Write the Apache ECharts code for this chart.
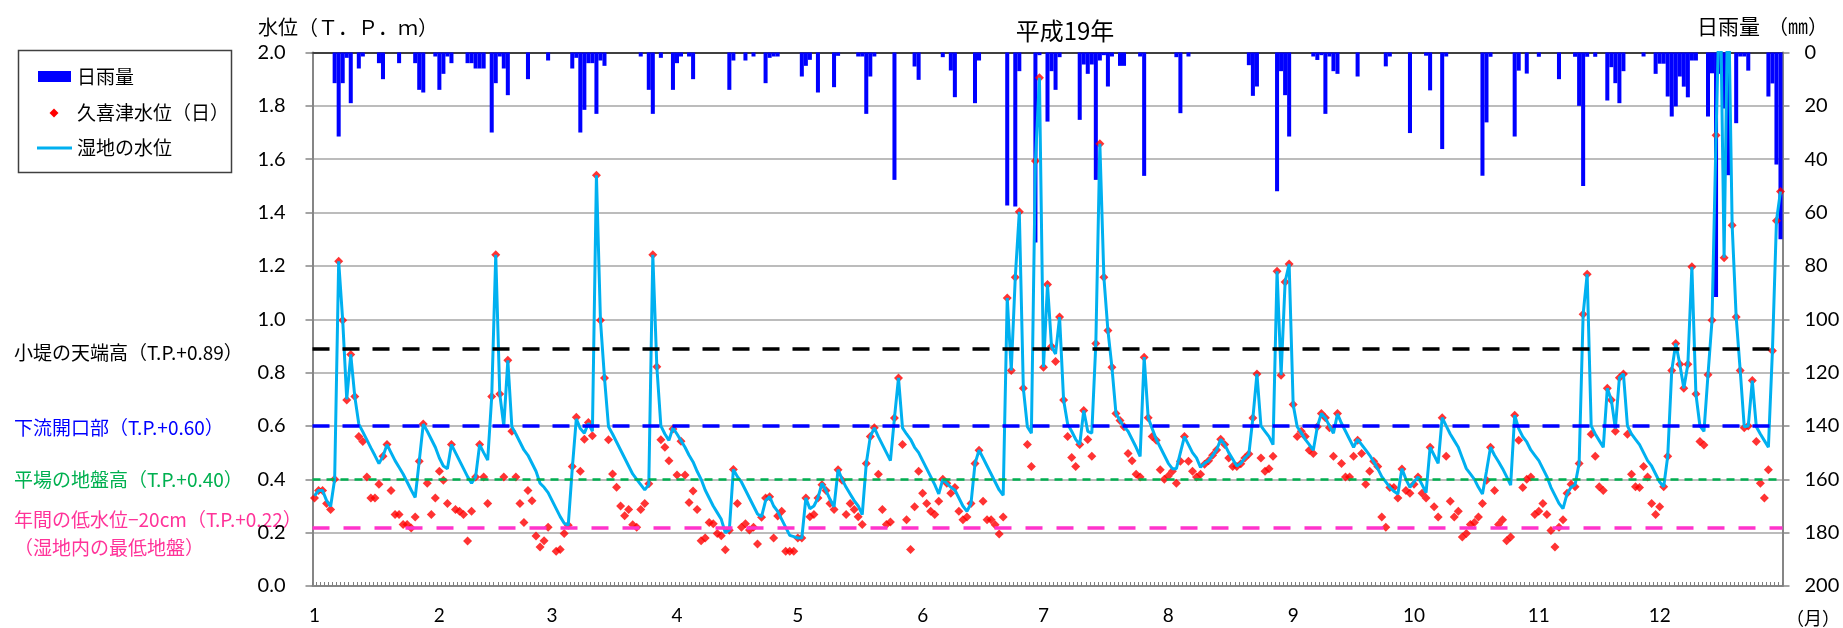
<!DOCTYPE html>
<html lang="ja">
<head>
<meta charset="utf-8">
<title>平成19年 水位と日雨量</title>
<script src="https://cdn.jsdelivr.net/npm/echarts@6/dist/echarts.min.js"></script>
<style>
  html, body { margin: 0; padding: 0; background: #fff; }
  #chart { width: 1843px; height: 628px; }
</style>
</head>
<body>
<div id="chart"></div>
<script>
// 2007 (平成19年) calendar: one category per day
const monthDays = [31, 28, 31, 30, 31, 30, 31, 31, 30, 31, 30, 31];
const categories = [];
monthDays.forEach((n, m) => { for (let d = 1; d <= n; d++) categories.push((m + 1) + '/' + d); });

// Daily rainfall (mm)
const rain = [
  0,0,0,0,0,11.5,31.5,11.5,2,19,0,6,1.5,0,0,0,4,10,0,0,0,4,0,0,0,4,14,15,0,0,1.5,            // 1
  14,8,1.5,4,0,0,0,4,4,6,6,6,0,30,11.5,1.5,6,16,0,0,0,0,10,0,0,0,0,3,                           // 2
  0,0,0,0,0,6,2,30,21.5,4,4,23,3,5,0,0,0,0,0,0,0,0,1.5,0,14,23,0,2,0,0,14,                      // 3
  4,1.5,0,1.5,10,0,0,0,0,0,0,0,0,14,3,0,0,3,0,1.5,0,0,11.5,2,1.5,1.5,0,0,0,0,                   // 4
  0,9,5,2.75,0,15,0,0,0,13,1.25,0,0,0,0,1.5,1.5,23,9,1.5,0,0,0,0,47.75,0,0,0,0,5.25,10.25,      // 5
  0,0,0,0,0,1.75,0,6.75,16.75,0,0,0,0,19,3,0,0,0,0,0,0,57.4,0,57.75,7,0,0,0,71.25,1,            // 6
  0,25.9,7,14,1.75,0,0,0,0,25.25,4.5,8,4.5,47.75,3,1,12.75,1.5,0,5,5,0,0,0,1.5,46.25,0,0,0,0,0, // 7
  0,0,1.75,22.75,0,1.5,0,0,0,0,0,0,0,0,0,0,0,0,0,0,4.75,16.25,12.75,0,0,0,0,52,7,16,31.5,       // 8
  0,0,0,0,0,1.5,2.8,1,23,1.5,7,8,0,0,0,0,9,0,0,0,0,0,0,5.2,1.5,0,0,0,0,30.2,                    // 9
  0,0,0,1.2,14.2,0,0,36.2,1.5,0,0,0,0,0,0,0,0,46.2,26.2,1.6,0,0,0,0,0,31.5,6.8,0,7.9,0,0,       // 10
  1.6,0,0,0,0,10,0,0,0,1.6,20,50,1.6,0,1.6,0,0,18,5.5,11.5,19,7,0,0,0,0,1.5,0,0,8,              // 11
  4.2,4.2,16.5,24,20.2,9,12.8,16.8,3,3,0,0,24,7.8,91.7,8,21,46,0,26.5,1.5,1.5,6.8,0,0,0,0,16.5,11.6,42,70 // 12
];

// 久喜津 daily water level (T.P. m)
const kukiLevel = [
  0.33,0.358,0.358,0.309,0.287,0.40,1.217,0.996,0.697,0.868,0.71,0.56,0.542,0.409,0.33,0.33,0.381,0.486,0.53,0.358,0.268,0.268,0.231,0.231,0.217,0.259,0.468,0.607,0.385,0.268,0.33,
  0.43,0.396,0.309,0.53,0.287,0.28,0.268,0.169,0.28,0.409,0.53,0.409,0.309,0.71,1.242,0.72,0.409,0.846,0.58,0.409,0.309,0.238,0.358,0.32,0.187,0.146,0.17,0.22,
  null,0.13,0.137,0.197,0.228,0.448,0.633,0.43,0.55,0.613,0.563,1.54,0.996,0.78,0.548,0.42,0.37,0.30,0.263,0.287,0.23,0.22,0.287,0.309,0.383,1.242,0.822,0.548,0.52,0.47,0.589,
  0.416,0.543,0.416,0.313,0.356,0.287,0.17,0.18,0.238,0.233,0.197,0.188,0.136,0.209,0.437,0.309,0.22,0.233,0.21,0.22,0.157,0.258,0.33,0.335,0.18,0.262,0.28,0.13,0.13,0.13,
  0.18,0.18,0.33,0.26,0.268,0.33,0.38,0.358,0.309,0.287,0.436,0.396,0.268,0.309,0.287,0.26,0.231,0.459,0.56,0.593,0.419,0.287,0.231,0.24,0.63,0.78,0.53,0.248,0.137,0.297,0.43,
  0.348,0.309,0.28,0.268,0.318,0.40,0.385,0.348,0.369,0.28,0.248,0.259,0.309,0.459,0.509,0.318,0.248,0.248,0.23,0.195,0.259,1.08,0.808,1.157,1.403,0.741,0.53,0.448,1.593,1.905,
  0.82,1.13,0.898,0.842,1.008,0.697,0.56,0.482,0.448,0.53,0.658,0.549,0.486,0.909,1.658,1.157,0.958,0.82,0.647,0.62,0.597,0.497,0.47,0.419,0.409,0.858,0.631,0.56,0.546,0.436,0.40,
  0.412,0.43,0.385,0.468,0.56,0.468,0.43,0.409,0.419,0.456,0.47,0.49,0.51,0.55,0.53,0.48,0.448,0.448,0.458,0.48,0.495,0.63,0.795,0.48,0.43,0.44,0.486,1.18,0.79,1.14,1.207,
  0.68,0.56,0.58,0.56,0.509,0.497,0.597,0.647,0.631,0.593,0.486,0.647,0.459,0.409,0.409,0.486,0.546,0.497,0.381,0.43,0.468,0.448,0.259,0.22,0.369,0.369,0.33,0.439,0.358,0.348,
  0.381,0.409,0.348,0.33,0.52,0.297,0.259,0.631,0.486,0.318,0.259,0.28,0.184,0.197,0.231,0.238,0.259,0.309,0.396,0.52,0.358,0.231,0.248,0.17,0.184,0.64,0.546,0.369,0.40,0.409,0.268,
  0.28,0.309,0.268,0.208,0.146,0.22,0.248,0.348,0.381,0.372,0.459,1.019,1.169,0.569,0.486,0.372,0.358,0.741,0.697,0.58,0.781,0.795,0.569,0.419,0.372,0.369,0.448,0.409,0.309,0.268,
  0.297,0.372,0.486,0.808,0.909,0.831,0.741,0.831,1.197,0.72,0.542,0.529,0.792,0.996,1.69,2.3,1.231,2.3,1.352,1.008,0.808,0.593,0.60,0.77,0.542,0.385,0.33,0.436,0.882,1.369,1.479
];

// 湿地 (wetland) water level (T.P. m)
const wetlandLevel = [
  0.338,0.358,0.358,0.32,0.298,0.40,1.217,0.996,0.70,0.868,0.71,0.607,0.578,0.548,0.518,0.489,0.459,0.486,0.53,0.50,0.47,0.445,0.42,0.39,0.36,0.332,0.468,0.607,0.58,0.55,0.52,
  0.48,0.45,0.44,0.53,0.50,0.47,0.44,0.41,0.385,0.409,0.53,0.50,0.472,0.71,1.242,0.72,0.60,0.846,0.597,0.57,0.54,0.51,0.49,0.46,0.43,0.385,0.37,0.35,
  0.32,0.29,0.26,0.235,0.228,0.44,0.627,0.59,0.573,0.61,0.58,1.54,0.996,0.78,0.597,0.57,0.54,0.51,0.48,0.45,0.42,0.40,0.38,0.36,0.38,1.242,0.822,0.60,0.57,0.546,0.593,
  0.57,0.545,0.52,0.49,0.465,0.43,0.40,0.36,0.33,0.30,0.275,0.25,0.20,0.21,0.437,0.41,0.39,0.36,0.33,0.30,0.27,0.26,0.32,0.335,0.30,0.28,0.25,0.22,0.19,0.185,
  0.18,0.18,0.33,0.29,0.30,0.33,0.385,0.358,0.325,0.297,0.436,0.40,0.37,0.345,0.32,0.30,0.268,0.459,0.56,0.593,0.56,0.53,0.50,0.47,0.63,0.78,0.593,0.57,0.55,0.52,0.50,
  0.47,0.44,0.41,0.38,0.345,0.40,0.385,0.37,0.36,0.33,0.30,0.28,0.309,0.459,0.509,0.48,0.45,0.42,0.39,0.36,0.34,1.08,0.808,1.157,1.403,0.741,0.597,0.573,1.593,1.905,
  0.82,1.13,0.898,0.87,1.008,0.697,0.607,0.58,0.55,0.53,0.658,0.58,0.573,0.909,1.658,1.157,0.958,0.82,0.647,0.62,0.597,0.58,0.55,0.52,0.486,0.858,0.631,0.59,0.55,0.52,0.49,
  0.46,0.44,0.44,0.50,0.56,0.53,0.50,0.48,0.445,0.46,0.47,0.49,0.51,0.55,0.53,0.50,0.475,0.45,0.46,0.48,0.495,0.63,0.795,0.60,0.58,0.56,0.53,1.18,0.79,1.14,1.207,
  0.68,0.597,0.575,0.55,0.53,0.509,0.597,0.647,0.63,0.60,0.573,0.645,0.61,0.58,0.55,0.52,0.55,0.53,0.51,0.49,0.466,0.44,0.41,0.39,0.37,0.355,0.345,0.44,0.40,0.37,
  0.39,0.409,0.38,0.35,0.52,0.49,0.46,0.631,0.60,0.57,0.545,0.52,0.48,0.44,0.42,0.40,0.37,0.345,0.43,0.52,0.49,0.466,0.44,0.41,0.378,0.64,0.59,0.56,0.54,0.51,0.49,
  0.47,0.44,0.41,0.37,0.34,0.31,0.29,0.345,0.37,0.38,0.459,1.019,1.169,0.60,0.57,0.545,0.52,0.741,0.697,0.59,0.781,0.795,0.60,0.57,0.55,0.53,0.50,0.47,0.45,0.42,
  0.39,0.372,0.486,0.808,0.909,0.831,0.741,0.831,1.197,0.72,0.60,0.58,0.792,0.996,1.69,2.3,1.231,2.3,1.352,1.008,0.808,0.597,0.60,0.77,0.597,0.57,0.545,0.52,0.882,1.369,1.479
];

// Reference elevations (T.P. m) and their captions
const refLevels = [0.89, 0.60, 0.40, 0.22];
const refColors = ['#000000', '#0000FF', '#00B050', '#FF33CC'];
const refCaptions = [
  '小堤の天端高（T.P.+0.89）',
  '下流開口部（T.P.+0.60）',
  '平場の地盤高（T.P.+0.40）',
  '年間の低水位−20cm（T.P.+0.22）'
];
const refCaptionColors = ['#000000', '#0000FF', '#00B050', '#FF3399'];

const jpFont = '"Noto Sans CJK JP", "Noto Sans", sans-serif';
const numFont = 'Lato, "Noto Sans", sans-serif';

const chart = echarts.init(document.getElementById('chart'), null, { renderer: 'canvas' });

const refDash = [
  { width: 3.5, type: [17, 13] },
  { width: 3.5, type: [17, 13] },
  { width: 2.5, type: [8, 6] },
  { width: 3.5, type: [17, 14] }
];

const option = {
  animation: false,
  backgroundColor: '#ffffff',
  title: {
    text: '平成19年',
    left: 1060, top: 14,
    textAlign: 'center',
    textStyle: { fontFamily: jpFont, fontSize: 24, fontWeight: 'normal', color: '#000' }
  },
  grid: { left: 312.5, right: 60.5, top: 52.5, bottom: 42 },
  xAxis: [
    {
      type: 'category',
      data: categories,
      position: 'bottom',
      boundaryGap: true,
      axisLine: { lineStyle: { color: '#868686', width: 2 } },
      axisTick: { show: true, inside: true, length: 4, interval: 0, lineStyle: { color: '#7F7F7F', width: 1 } },
      axisLabel: {
        interval: (i) => categories[i].endsWith('/1'),
        formatter: (v) => v.split('/')[0],
        fontFamily: numFont, fontSize: 19, color: '#000', margin: 20
      },
      splitLine: { show: false }
    },
    {
      type: 'category',
      data: categories,
      position: 'top',
      boundaryGap: true,
      axisLine: { lineStyle: { color: '#404040', width: 2 } },
      axisTick: { show: false },
      axisLabel: { show: false },
      splitLine: { show: false }
    }
  ],
  yAxis: [
    {
      type: 'value', min: 0, max: 2, interval: 0.2, position: 'left',
      axisLine: { show: true, lineStyle: { color: '#868686', width: 2 } },
      axisTick: { show: true, length: 7, lineStyle: { color: '#868686', width: 1.5 } },
      axisLabel: { formatter: (v) => v.toFixed(1), fontFamily: numFont, fontSize: 20, color: '#000', margin: 27 },
      splitLine: { show: true, lineStyle: { color: '#A6A6A6', width: 1.5 } }
    },
    {
      type: 'value', min: 0, max: 200, interval: 20, inverse: true, position: 'right',
      axisLine: { show: true, lineStyle: { color: '#868686', width: 2 } },
      axisTick: { show: true, length: 7, lineStyle: { color: '#868686', width: 1.5 } },
      axisLabel: { fontFamily: numFont, fontSize: 20, color: '#000', margin: 22 },
      splitLine: { show: false }
    }
  ],
  series: [
    {
      name: '日雨量',
      type: 'bar',
      xAxisIndex: 1, yAxisIndex: 1,
      data: rain,
      barCategoryGap: '0%',
      barGap: '0%',
      itemStyle: { color: '#0000FF' }
    },
    {
      name: '基準高',
      type: 'line',
      xAxisIndex: 0, yAxisIndex: 0,
      data: [],
      markLine: {
        silent: true,
        symbol: ['none', 'none'],
        label: { show: false },
        data: refLevels.map((v, i) => ({
          yAxis: v,
          lineStyle: { color: refColors[i], width: refDash[i].width, type: refDash[i].type }
        }))
      }
    },
    {
      name: '湿地の水位',
      type: 'line',
      xAxisIndex: 0, yAxisIndex: 0,
      data: wetlandLevel,
      symbol: 'none',
      connectNulls: true,
      lineStyle: { color: '#00B0F0', width: 3 },
      itemStyle: { color: '#00B0F0' }
    },
    {
      name: '久喜津水位（日）',
      type: 'scatter',
      xAxisIndex: 0, yAxisIndex: 0,
      data: kukiLevel,
      symbol: 'diamond',
      symbolSize: 9,
      itemStyle: { color: '#FF0000' }
    }
  ],
  graphic: [
    // axis captions
    { type: 'text', x: 258, y: 27, style: { text: '水位（Ｔ．Ｐ．ｍ）', fill: '#000', fontFamily: jpFont, fontSize: 20, align: 'left', verticalAlign: 'middle' } },
    { type: 'text', x: 1697, y: 26, style: { text: '日雨量', fill: '#000', fontFamily: jpFont, fontSize: 21, align: 'left', verticalAlign: 'middle' } },
    { type: 'text', x: 1828, y: 26, style: { text: '（㎜）', fill: '#000', fontFamily: jpFont, fontSize: 20, align: 'right', verticalAlign: 'middle' } },
    { type: 'text', x: 1840, y: 618, style: { text: '（月）', fill: '#000', fontFamily: jpFont, fontSize: 18, align: 'right', verticalAlign: 'middle' } },

    // legend box
    { type: 'rect', shape: { x: 18.5, y: 50.5, width: 213, height: 122 }, style: { fill: '#fff', stroke: '#404040', lineWidth: 1.5 } },
    { type: 'rect', shape: { x: 38, y: 71, width: 33, height: 11 }, style: { fill: '#0000FF' } },
    { type: 'text', x: 77, y: 77, style: { text: '日雨量', fill: '#000', fontFamily: jpFont, fontSize: 19, align: 'left', verticalAlign: 'middle' } },
    { type: 'polygon', shape: { points: [[54, 108.5], [58.5, 113], [54, 117.5], [49.5, 113]] }, style: { fill: '#FF0000' } },
    { type: 'text', x: 77, y: 113, style: { text: '久喜津水位（日）', fill: '#000', fontFamily: jpFont, fontSize: 19, align: 'left', verticalAlign: 'middle' } },
    { type: 'line', shape: { x1: 37, y1: 148, x2: 72, y2: 148 }, style: { stroke: '#00B0F0', lineWidth: 3 } },
    { type: 'text', x: 77, y: 148, style: { text: '湿地の水位', fill: '#000', fontFamily: jpFont, fontSize: 19, align: 'left', verticalAlign: 'middle' } },

    // captions for the reference elevations
    { type: 'text', x: 14, y: 353, style: { text: refCaptions[0], fill: refCaptionColors[0], fontFamily: jpFont, fontSize: 19, align: 'left', verticalAlign: 'middle' } },
    { type: 'text', x: 14, y: 428, style: { text: refCaptions[1], fill: refCaptionColors[1], fontFamily: jpFont, fontSize: 19, align: 'left', verticalAlign: 'middle' } },
    { type: 'text', x: 14, y: 480, style: { text: refCaptions[2], fill: refCaptionColors[2], fontFamily: jpFont, fontSize: 19, align: 'left', verticalAlign: 'middle' } },
    { type: 'text', x: 14, y: 520, style: { text: refCaptions[3], fill: refCaptionColors[3], fontFamily: jpFont, fontSize: 19, align: 'left', verticalAlign: 'middle' } },
    { type: 'text', x: 14, y: 548, style: { text: '（湿地内の最低地盤）', fill: refCaptionColors[3], fontFamily: jpFont, fontSize: 19, align: 'left', verticalAlign: 'middle' } }
  ]
};

chart.setOption(option);
</script>
</body>
</html>
